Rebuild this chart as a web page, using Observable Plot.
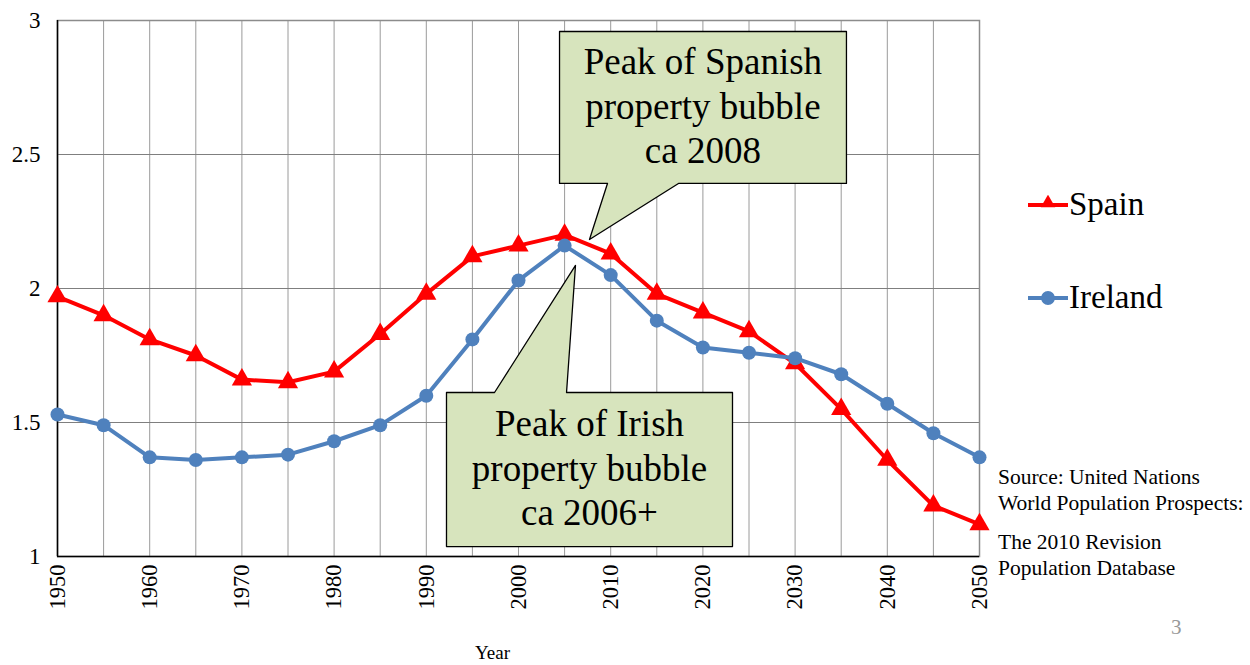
<!DOCTYPE html>
<html>
<head>
<meta charset="utf-8">
<script src="https://cdn.jsdelivr.net/npm/d3@7"></script>
<script src="https://cdn.jsdelivr.net/npm/@observablehq/plot@0.6"></script>
<style>
  html, body { margin: 0; padding: 0; background: #fff; }
  #wrap { position: relative; width: 1250px; height: 665px; font-family: "Liberation Serif", "Times New Roman", serif; }
  #wrap svg { position: absolute; left: 0; top: 0; }
  .legend { position: absolute; left: 1028px; font-size: 33px; display: flex; align-items: center; line-height: 1; }
  .legend svg { position: static !important; margin-right: 1px; }
  .source { position: absolute; left: 998px; font-size: 21.5px; line-height: 26px; color: #000; white-space: nowrap; }
  .page { position: absolute; left: 1171px; top: 615px; font-size: 21px; color: #999; }
</style>
</head>
<body>
<div id="wrap"></div>
<script>
// ---- data ----
const years = [1950,1955,1960,1965,1970,1975,1980,1985,1990,1995,2000,2005,2010,2015,2020,2025,2030,2035,2040,2045,2050];
const spain = [1.97,1.90,1.81,1.75,1.66,1.65,1.69,1.83,1.98,2.12,2.16,2.20,2.13,1.98,1.91,1.84,1.72,1.55,1.36,1.19,1.12];
const ireland = [1.53,1.49,1.37,1.36,1.37,1.38,1.43,1.49,1.60,1.81,2.03,2.16,2.05,1.88,1.78,1.76,1.74,1.68,1.57,1.46,1.37];
const yTicks = [1, 1.5, 2, 2.5, 3];
const xTicks = [1950,1960,1970,1980,1990,2000,2010,2020,2030,2040,2050];
const gridYears = years;
const seriesNames = ["Spain", "Ireland"];
const seriesColors = ["#FF0000", "#4F81BD"];
// callout annotations in data coordinates (year, value)
const spanishCallout = [[2004.45,2.959],[2035.57,2.959],[2035.57,2.392],[2017.35,2.392],[2007.7,2.183],[2009.65,2.392],[2004.45,2.392],[2004.45,2.959]];
const irishCallout = [[1992.19,1.612],[1997.40,1.612],[2006.18,2.086],[2005.21,1.612],[2023.21,1.612],[2023.21,1.037],[1992.19,1.037],[1992.19,1.612]];
const spanishText = {year: 2020.0, value: 2.686, text: "Peak of Spanish\nproperty bubble\nca 2008"};
const irishText = {year: 2007.7, value: 1.336, text: "Peak of Irish\nproperty bubble\nca 2006+"};

const spainData = years.map((y, i) => ({year: y, value: spain[i]}));
const irelandData = years.map((y, i) => ({year: y, value: ireland[i]}));
const toPts = arr => arr.map(([year, value]) => ({year, value}));

const chart = Plot.plot({
  width: 1250,
  height: 665,
  marginLeft: 57,
  marginRight: 271,
  marginTop: 20,
  marginBottom: 109,
  style: {fontFamily: "Liberation Serif, Times New Roman, serif", background: "transparent", color: "#000"},
  x: {domain: [1950, 2050]},
  y: {domain: [1, 3]},
  marks: [
    Plot.gridX(gridYears, {stroke: "#9a9a9a", strokeOpacity: 1, strokeWidth: 1}),
    Plot.gridY(yTicks, {stroke: "#7f7f7f", strokeOpacity: 1, strokeWidth: 1}),
    Plot.frame({stroke: "#8c8c8c", strokeWidth: 1.5}),
    Plot.ruleX([1950], {stroke: "#000", strokeWidth: 1.5}),
    Plot.ruleY([1], {stroke: "#000", strokeWidth: 1.5}),
    Plot.axisY(yTicks, {tickSize: 0, tickPadding: 17, fontSize: 23, label: null, tickFormat: d => String(d)}),
    Plot.axisX(xTicks, {tickSize: 0, tickPadding: 8, tickRotate: -90, fontSize: 22.5, label: null, tickFormat: d => String(d)}),
    Plot.text(["Year"], {frameAnchor: "bottom", dx: -26, dy: 102, fontSize: 19, fill: "#000"}),
    Plot.line(spainData, {x: "year", y: "value", stroke: seriesColors[0], strokeWidth: 4}),
    Plot.dot(spainData, {x: "year", y: "value", symbol: "triangle", r: 7.5, fill: seriesColors[0], stroke: "none"}),
    Plot.line(irelandData, {x: "year", y: "value", stroke: seriesColors[1], strokeWidth: 4}),
    Plot.dot(irelandData, {x: "year", y: "value", symbol: "circle", r: 7, fill: seriesColors[1], stroke: "none"}),
    Plot.line(toPts(spanishCallout), {x: "year", y: "value", fill: "#D7E4BD", stroke: "#000", strokeWidth: 1.3, curve: "linear-closed"}),
    Plot.line(toPts(irishCallout), {x: "year", y: "value", fill: "#D7E4BD", stroke: "#000", strokeWidth: 1.3, curve: "linear-closed"}),
    Plot.text([spanishText], {x: "year", y: "value", text: "text", fontSize: 37, lineHeight: 1.2, fill: "#000"}),
    Plot.text([irishText], {x: "year", y: "value", text: "text", fontSize: 37, lineHeight: 1.2, fill: "#000"})
  ]
});

const wrap = document.getElementById("wrap");
wrap.appendChild(chart);

// legend
const legendTops = [188, 281];
const symbols = ["triangle", "circle"];
seriesNames.forEach((name, i) => {
  const div = document.createElement("div");
  div.className = "legend";
  div.style.top = legendTops[i] + "px";
  const ns = "http://www.w3.org/2000/svg";
  const svg = document.createElementNS(ns, "svg");
  svg.setAttribute("width", 40); svg.setAttribute("height", 20);
  const line = document.createElementNS(ns, "line");
  line.setAttribute("x1", 0); line.setAttribute("x2", 40); line.setAttribute("y1", 10); line.setAttribute("y2", 10);
  line.setAttribute("stroke", seriesColors[i]); line.setAttribute("stroke-width", 4);
  svg.appendChild(line);
  const sym = document.createElementNS(ns, "path");
  sym.setAttribute("d", d3.symbol(symbols[i] === "triangle" ? d3.symbolTriangle2 : d3.symbolCircle, 150)());
  sym.setAttribute("transform", symbols[i] === "triangle" ? "translate(20,8)" : "translate(20,10)");
  sym.setAttribute("fill", seriesColors[i]);
  svg.appendChild(sym);
  div.appendChild(svg);
  const span = document.createElement("span");
  span.textContent = name;
  div.appendChild(span);
  wrap.appendChild(div);
});

// source note
const src1 = document.createElement("div");
src1.className = "source"; src1.style.top = "464px";
src1.innerHTML = "Source: United Nations<br>World Population Prospects:";
wrap.appendChild(src1);
const src2 = document.createElement("div");
src2.className = "source"; src2.style.top = "529px";
src2.innerHTML = "The 2010 Revision<br>Population Database";
wrap.appendChild(src2);
const page = document.createElement("div");
page.className = "page"; page.textContent = "3";
wrap.appendChild(page);
</script>
</body>
</html>
